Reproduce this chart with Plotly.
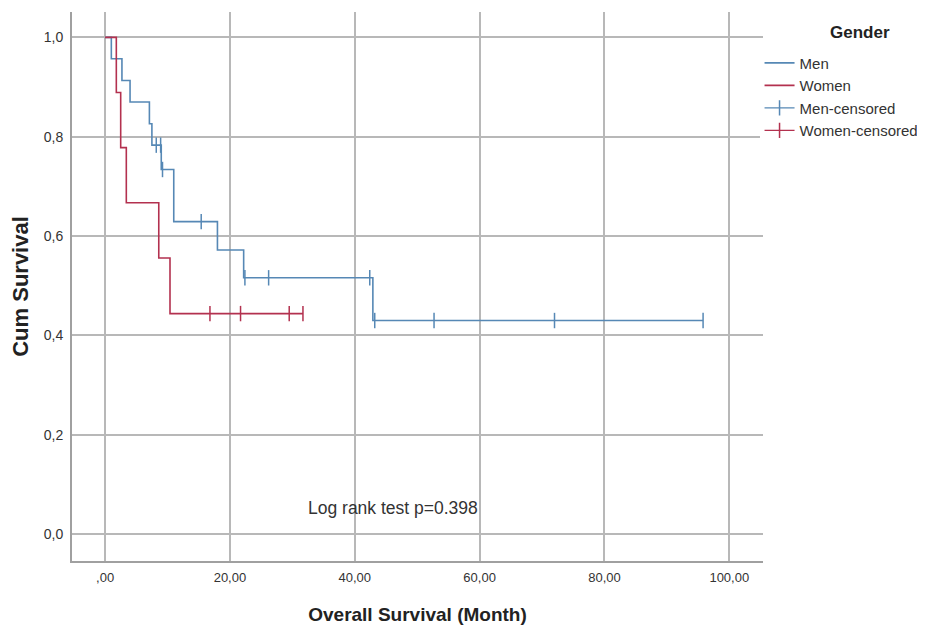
import plotly.graph_objects as go

# Kaplan-Meier step data (time in months, cumulative survival)
men_t = [0, 1.0, 2.7, 4.0, 7.1, 7.5, 9.0, 11.0, 18.0, 22.2, 42.9, 95.8]
men_s = [1.0, 0.957, 0.913, 0.870, 0.826, 0.783, 0.734, 0.629, 0.572, 0.516, 0.430, 0.430]
men_cens_t = [8.2, 8.9, 9.2, 15.4, 22.4, 26.2, 42.4, 43.2, 52.7, 72.0, 95.8]

women_t = [0, 1.8, 2.5, 3.4, 8.6, 10.4, 31.7]
women_s = [1.0, 0.889, 0.778, 0.667, 0.556, 0.444, 0.444]
women_cens_t = [16.8, 21.7, 29.5, 31.7]

x_ticks = [0, 20, 40, 60, 80, 100]
x_tick_text = [",00", "20,00", "40,00", "60,00", "80,00", "100,00"]
y_ticks = [0, 0.2, 0.4, 0.6, 0.8, 1.0]
y_tick_text = ["0,0", "0,2", "0,4", "0,6", "0,8", "1,0"]

MEN = "#5688b5"
WOMEN = "#b3314f"


def surv_at(ts, ss, t):
    val = ss[0]
    for ti, si in zip(ts, ss):
        if ti < t:
            val = si
    return val


def sparse(xs, ys):
    ox, oy = [], []
    for x, y in zip(xs, ys):
        ox += [x, None]
        oy += [y, None]
    return ox, oy


fig = go.Figure()
fig.add_trace(go.Scatter(x=men_t, y=men_s, mode="lines", line=dict(color=MEN, width=1.6, shape="hv"),
                         name="Men", legendgroup="a"))
fig.add_trace(go.Scatter(x=women_t, y=women_s, mode="lines", line=dict(color=WOMEN, width=1.6, shape="hv"),
                         name="Women", legendgroup="b"))
mx, my = sparse(men_cens_t, [surv_at(men_t, men_s, t) for t in men_cens_t])
fig.add_trace(go.Scatter(x=mx, y=my, mode="lines+markers", name="Men-censored", legendgroup="c",
                         line=dict(color=MEN, width=1.4),
                         marker=dict(symbol="line-ns", size=11, line=dict(color=MEN, width=1.5))))
wx, wy = sparse(women_cens_t, [surv_at(women_t, women_s, t) for t in women_cens_t])
fig.add_trace(go.Scatter(x=wx, y=wy, mode="lines+markers", name="Women-censored", legendgroup="d",
                         line=dict(color=WOMEN, width=1.4),
                         marker=dict(symbol="line-ns", size=11, line=dict(color=WOMEN, width=1.5))))

fig.add_annotation(x=46.2, y=0.052, text="Log rank test p=0.398", showarrow=False,
                   font=dict(size=17.5, color="#333333"))
fig.add_annotation(xref="paper", yref="paper", x=1.14, y=1.0, xanchor="center", yanchor="middle",
                   text="<b>Gender</b>", showarrow=False, yshift=-20,
                   font=dict(size=17, color="#222222"))

fig.update_layout(
    width=925, height=633,
    margin=dict(l=64, r=170, t=4, b=80),
    paper_bgcolor="white", plot_bgcolor="white",
    font=dict(family="Liberation Sans, Arial, sans-serif", color="#333333"),
    showlegend=True,
    legend=dict(x=0.995, y=0.937, xanchor="left", yanchor="top",
                font=dict(size=15, color="#333333"), tracegroupgap=0, itemwidth=30),
)
fig.update_xaxes(range=[-5.3, 105.4], tickvals=x_ticks, ticktext=x_tick_text, automargin=False,
                 showgrid=True, gridcolor="#b8b8b8", gridwidth=2,
                 showline=True, linecolor="#a0a0a0", linewidth=2, zeroline=False,
                 ticks="outside", ticklen=3, tickcolor="rgba(0,0,0,0)", tickfont=dict(size=13, color="#333333"),
                 title=dict(text="<b>Overall Survival (Month)</b>", font=dict(size=19, color="#222222"), standoff=24))
fig.update_yaxes(range=[-0.054, 1.051], tickvals=y_ticks, ticktext=y_tick_text, automargin=False,
                 showgrid=True, gridcolor="#b8b8b8", gridwidth=2,
                 showline=True, linecolor="#a0a0a0", linewidth=2, zeroline=False,
                 ticks="outside", ticklen=4, tickcolor="rgba(0,0,0,0)", tickfont=dict(size=14, color="#333333"),
                 title=dict(text="<b>Cum Survival</b>", font=dict(size=22, color="#222222"), standoff=16))

fig.write_html("out.html")
